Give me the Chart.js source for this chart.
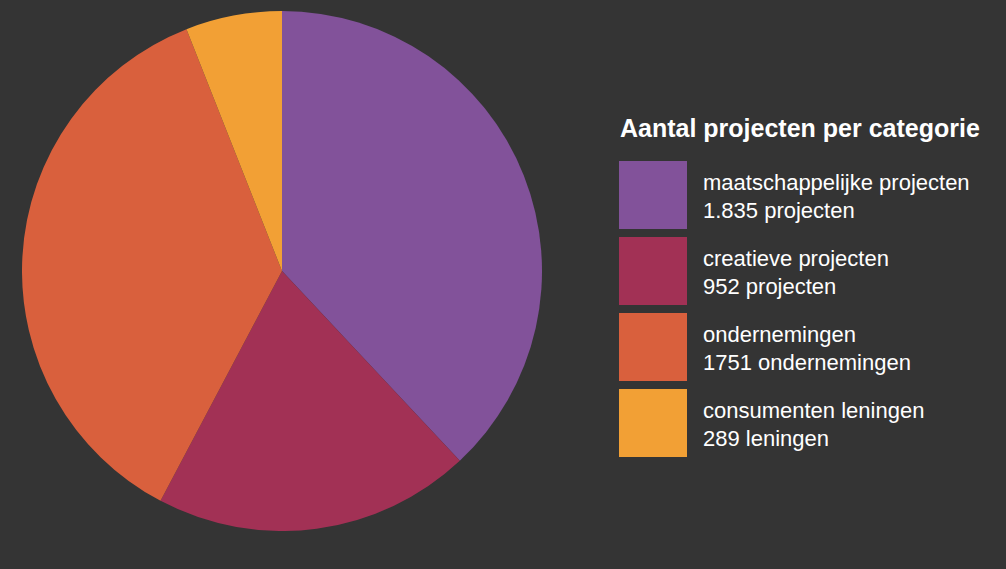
<!DOCTYPE html>
<html>
<head>
<meta charset="utf-8">
<script src="https://cdn.jsdelivr.net/npm/chart.js@4"></script>
<style>
    html, body { margin: 0; padding: 0; background: #343434; width: 1006px; height: 569px; overflow: hidden; }
    body { position: relative; font-family: "Liberation Sans", Arial, sans-serif; color: #fff; }
    #pieBox { position: absolute; left: 22px; top: 11px; width: 520px; height: 520px; }
    #legend { position: absolute; left: 619px; top: 112px; }
    #legend h3 { margin: 0 0 17px 1px; font-size: 25px; font-weight: bold; line-height: 32px; white-space: nowrap; }
    .item { display: flex; height: 68px; margin-bottom: 8px; }
    .swatch { width: 68px; height: 68px; }
    .txt { margin-left: 16px; font-size: 22px; line-height: 28px; padding-top: 8px; white-space: nowrap; }
</style>
</head>
<body>
<div id="pieBox"><canvas id="pieChart"></canvas></div>
<div id="legend"><h3 id="legendTitle"></h3><div id="legendItems"></div></div>
<script>
var legendTitle = 'Aantal projecten per categorie';
var categories = ['maatschappelijke projecten', 'creatieve projecten', 'ondernemingen', 'consumenten leningen'];
var values = [1835, 952, 1751, 289];
var valueLabels = ['1.835 projecten', '952 projecten', '1751 ondernemingen', '289 leningen'];
var colors = ['#82529a', '#a23155', '#d9603d', '#f2a035'];

document.addEventListener('DOMContentLoaded', function () {
    var ctx = document.getElementById('pieChart').getContext('2d');
    var pieChart = new Chart(ctx, {
        type: 'pie',
        data: {
            labels: categories,
            datasets: [{
                data: values,
                backgroundColor: colors,
                borderWidth: 0
            }]
        },
        options: {
            responsive: true,
            maintainAspectRatio: false,
            animation: false,
            plugins: {
                legend: { display: false },
                tooltip: { enabled: false }
            }
        }
    });

    // legenda naast de taart, gevuld vanuit dezelfde arrays
    document.getElementById('legendTitle').textContent = legendTitle;
    var box = document.getElementById('legendItems');
    categories.forEach(function (cat, i) {
        var item = document.createElement('div');
        item.className = 'item';
        item.innerHTML = '<div class="swatch" style="background:' + colors[i] + '"></div>' +
            '<div class="txt">' + cat + '<br>' + valueLabels[i] + '</div>';
        box.appendChild(item);
    });
});
</script>
</body>
</html>
